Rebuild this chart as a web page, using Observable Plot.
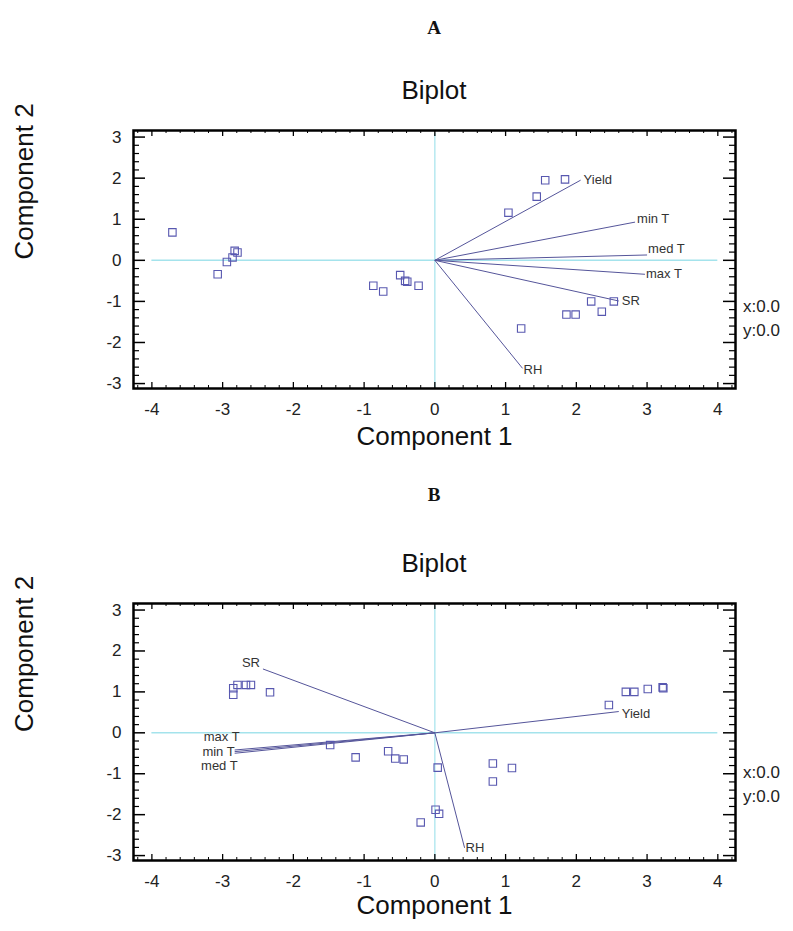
<!DOCTYPE html>
<html>
<head>
<meta charset="utf-8">
<script src="https://cdn.jsdelivr.net/npm/d3@7"></script>
<script src="https://cdn.jsdelivr.net/npm/@observablehq/plot@0.6"></script>
<style>
  body { margin: 0; background: #fff; }
  #root { position: relative; width: 793px; height: 931px; overflow: hidden;
          font-family: "Liberation Sans", Arial, sans-serif; color: #111; }
  .abs { position: absolute; left: 0; width: 868px; text-align: center; line-height: 1; }
  .letter { font-family: "Liberation Serif", "Times New Roman", serif; font-weight: bold; font-size: 19px; }
  .title { font-size: 26px; }
  .xy { position: absolute; left: 743px; font-size: 17px; line-height: 24px; color: #222; }
  .plot { position: absolute; left: 0; }
</style>
</head>
<body>
<div id="root">
  <div class="abs letter" style="top:18px">A</div>
  <div class="abs title" style="top:77px">Biplot</div>
  <div id="plotA" class="plot" style="top:100px"></div>
  <div class="xy" style="top:295px">x:0.0<br>y:0.0</div>

  <div class="abs letter" style="top:485px">B</div>
  <div class="abs title" style="top:550px">Biplot</div>
  <div id="plotB" class="plot" style="top:573px"></div>
  <div class="xy" style="top:761px">x:0.0<br>y:0.0</div>
</div>
<script>
// ---------- data ----------
const variables = ["Yield", "min T", "med T", "max T", "SR", "RH"];

// Panel A: variable vectors (loadings)
const loadA_x = [2.06, 2.83, 3.00, 2.97, 2.60, 1.24];
const loadA_y = [1.95, 0.93, 0.13, -0.34, -0.99, -2.63];
// Panel A: observation scores
const scoreA_x = [-3.71, -3.07, -2.94, -2.86, -2.83, -2.79, -0.87, -0.73, -0.49, -0.42, -0.39, -0.23,
                  1.04, 1.44, 1.56, 1.84, 2.21, 2.53, 2.36, 1.86, 1.99, 1.22];
const scoreA_y = [0.68, -0.34, -0.04, 0.07, 0.23, 0.19, -0.62, -0.76, -0.36, -0.50, -0.52, -0.62,
                  1.16, 1.55, 1.95, 1.97, -1.00, -1.00, -1.25, -1.32, -1.32, -1.66];

// Panel B: variable vectors (loadings)
const loadB_x = [2.60, -2.83, -2.83, -2.83, -2.43, 0.42];
const loadB_y = [0.52, -0.46, -0.50, -0.42, 1.56, -2.81];
// Panel B: observation scores
const scoreB_x = [-2.85, -2.85, -2.79, -2.67, -2.60, -2.33, -1.48, -1.12, -0.66, -0.56, -0.44, 0.04,
                  0.01, 0.06, -0.20, 0.82, 0.82, 1.09, 2.46, 2.70, 2.82, 3.01, 3.22, 3.23];
const scoreB_y = [1.09, 0.93, 1.17, 1.17, 1.17, 0.99, -0.30, -0.60, -0.45, -0.63, -0.65, -0.85,
                  -1.88, -1.98, -2.19, -0.75, -1.19, -0.86, 0.68, 1.00, 1.00, 1.07, 1.11, 1.09];

// axes
const xTickValues = [-4, -3, -2, -1, 0, 1, 2, 3, 4];
const yTickValues = [-3, -2, -1, 0, 1, 2, 3];
const xDomain = [-4.26, 4.25];
const yDomain = [-3.12, 3.16];
const zeroLineSpan = [-4, 4];
const xLabel = "Component 1";
const yLabel = "Component 2";

// ---------- label styles ----------
const labelStyleA = {
  "Yield": {textAnchor: "start", dx: 3, dy: 0},
  "min T": {textAnchor: "start", dx: 2, dy: -3},
  "med T": {textAnchor: "start", dx: 1, dy: -6},
  "max T": {textAnchor: "start", dx: 1, dy: 0},
  "SR":    {textAnchor: "start", dx: 3, dy: 0},
  "RH":    {textAnchor: "start", dx: 1, dy: 1}
};
const labelStyleB = {
  "Yield": {textAnchor: "start", dx: 3, dy: 2},
  "min T": {textAnchor: "end", dx: 0, dy: 0},
  "med T": {textAnchor: "end", dx: 3, dy: 13},
  "max T": {textAnchor: "end", dx: 5, dy: -13},
  "SR":    {textAnchor: "end", dx: -3, dy: -6},
  "RH":    {textAnchor: "start", dx: 1, dy: 0}
};

const zip2 = (xs, ys, names) => xs.map((x, i) => ({x, y: ys[i], name: names ? names[i] : i}));

const minorX = d3.range(-42, 43, 2).map(v => v / 10).filter(v => v >= xDomain[0] && v <= xDomain[1] && Math.abs(v - Math.round(v)) > 1e-6);
const minorY = d3.range(-30, 32, 2).map(v => v / 10).filter(v => v >= yDomain[0] && v <= yDomain[1] && Math.abs(v - Math.round(v)) > 1e-6);

function biplot({loadX, loadY, scoreX, scoreY, labelStyle, marginBottom, plotH, xTitleDy}) {
  const W = 793, mL = 133, mR = 58, mT = 30;
  const innerW = W - mL - mR;
  const loads = zip2(loadX, loadY, variables);
  const scores = zip2(scoreX, scoreY);
  const cyan = "#a4e3ec";
  const vecColor = "#55559a";
  const dotColor = "#5858b0";
  const labelMarks = variables.map(v => Plot.text(loads.filter(d => d.name === v), {
    x: "x", y: "y", text: "name", fontSize: 13, fill: "#333",
    lineAnchor: "middle", ...labelStyle[v]
  }));
  return Plot.plot({
    width: W,
    height: mT + plotH + marginBottom,
    marginLeft: mL, marginRight: mR, marginTop: mT, marginBottom,
    style: {fontFamily: "'Liberation Sans', Arial, sans-serif", fontSize: "17px", color: "#1a1a1a", background: "transparent", overflow: "visible"},
    x: {domain: xDomain},
    y: {domain: yDomain},
    marks: [
      // zero lines
      Plot.ruleY([0], {y: d => d, x1: () => zeroLineSpan[0], x2: () => zeroLineSpan[1], stroke: cyan, strokeWidth: 1.6}),
      Plot.ruleX([0], {x: d => d, stroke: cyan, strokeWidth: 1.2, insetTop: 3}),
      // vectors
      Plot.link(loads, {x1: () => 0, y1: () => 0, x2: "x", y2: "y", stroke: vecColor, strokeWidth: 1}),
      // scores
      Plot.dot(scores, {x: "x", y: "y", symbol: "square", r: 4.2, stroke: dotColor, fill: "none", strokeWidth: 1.1}),
      ...labelMarks,
      // inward ticks: bottom/top
      Plot.tickX(xTickValues, {x: d => d, insetTop: plotH - 6, stroke: "#000", strokeWidth: 1.3}),
      Plot.tickX(xTickValues, {x: d => d, insetBottom: plotH - 6, stroke: "#000", strokeWidth: 1.3}),
      Plot.tickX(minorX, {x: d => d, insetTop: plotH - 3, stroke: "#000", strokeWidth: 1}),
      Plot.tickX(minorX, {x: d => d, insetBottom: plotH - 3, stroke: "#000", strokeWidth: 1}),
      // inward ticks: left/right
      Plot.tickY(yTickValues, {y: d => d, insetRight: innerW - 12, stroke: "#000", strokeWidth: 1.5}),
      Plot.tickY(yTickValues, {y: d => d, insetLeft: innerW - 12, stroke: "#000", strokeWidth: 1.5}),
      Plot.tickY(minorY, {y: d => d, insetRight: innerW - 6, stroke: "#000", strokeWidth: 1.2}),
      Plot.tickY(minorY, {y: d => d, insetLeft: innerW - 6, stroke: "#000", strokeWidth: 1.2}),
      Plot.frame({stroke: "#000", strokeWidth: 2.5}),
      // tick labels
      Plot.axisX({ticks: xTickValues, tickSize: 0, tickPadding: 14, tickFormat: d => String(d), label: null, fill: "#222"}),
      Plot.axisY({ticks: yTickValues, tickSize: 0, tickPadding: 12, tickFormat: d => String(d), label: null, fill: "#222"}),
      // axis titles
      Plot.text([xLabel], {frameAnchor: "bottom", dy: xTitleDy, text: d => d, fontSize: 26, fill: "#111"}),
      Plot.text([yLabel], {frameAnchor: "left", rotate: -90, dx: -109, text: d => d, fontSize: 26, fill: "#111"})
    ]
  });
}

document.getElementById("plotA").appendChild(biplot({
  loadX: loadA_x, loadY: loadA_y, scoreX: scoreA_x, scoreY: scoreA_y,
  labelStyle: labelStyleA, marginBottom: 82, plotH: 258, xTitleDy: 56
}));
document.getElementById("plotB").appendChild(biplot({
  loadX: loadB_x, loadY: loadB_y, scoreX: scoreB_x, scoreY: scoreB_y,
  labelStyle: labelStyleB, marginBottom: 71, plotH: 257, xTitleDy: 53
}));
</script>
</body>
</html>
